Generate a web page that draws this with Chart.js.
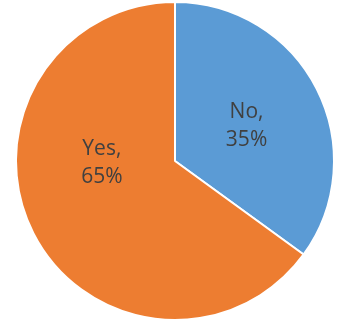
<!DOCTYPE html>
<html><head><meta charset="utf-8">
<script src="https://cdn.jsdelivr.net/npm/chart.js@4"></script>
<style>html,body{margin:0;padding:0;background:#fff;}#wrap{width:355px;height:332px;}</style>
</head><body><div id="wrap"><canvas id="c" width="355" height="332"></canvas></div>
<script>
const categories = ["No", "Yes"];
const values = [35, 65];
const colors = ["#5B9BD5", "#ED7D31"];
const labelPos = [[0.45, -0.23], [-0.46, 0.0]];

const labelPlugin = {
  id: 'lbl',
  afterDatasetsDraw(chart) {
    const ctx = chart.ctx;
    const meta = chart.getDatasetMeta(0);
    const total = values.reduce((a, b) => a + b, 0);
    meta.data.forEach((arc, i) => {
      const r = arc.outerRadius;
      const x = arc.x + labelPos[i][0] * r;
      const y = arc.y + labelPos[i][1] * r;
      ctx.save();
      ctx.fillStyle = '#404040';
      ctx.font = '21px "Open Sans", sans-serif';
      ctx.textAlign = 'center';
      ctx.textBaseline = 'alphabetic';
      ctx.fillText(categories[i] + ',', x, y - 6.5);
      ctx.fillText(Math.round(values[i] / total * 100) + '%', x, y + 21.5);
      ctx.restore();
    });
  }
};

new Chart(document.getElementById('c'), {
  type: 'pie',
  data: { labels: categories, datasets: [{ data: values, backgroundColor: colors, borderColor: '#ffffff', borderWidth: 2 }] },
  options: {
    responsive: false, animation: false,
    layout: { padding: { left: 15, right: 20, top: 1, bottom: 11 } },
    plugins: { legend: { display: false }, tooltip: { enabled: false } }
  },
  plugins: [labelPlugin]
});
</script></body></html>
